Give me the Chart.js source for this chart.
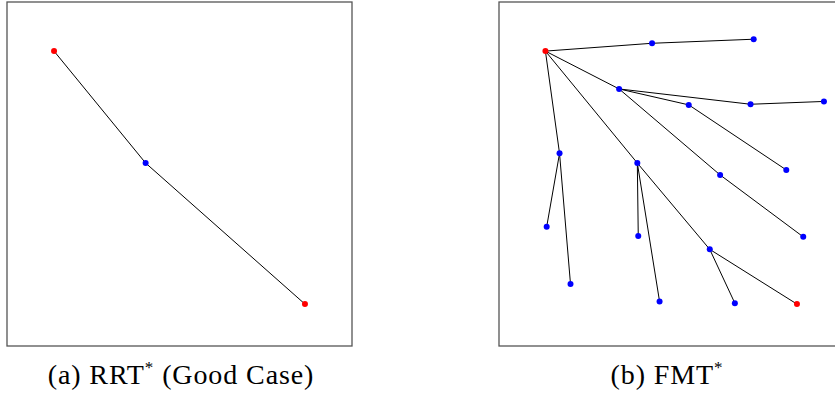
<!DOCTYPE html>
<html>
<head>
<meta charset="utf-8">
<script src="https://cdn.jsdelivr.net/npm/chart.js@4/dist/chart.umd.min.js"></script>
<style>
  html, body { margin: 0; padding: 0; background: #fff; width: 835px; height: 402px; overflow: hidden; position: relative; }
  .panel { position: absolute; top: 0; width: 349px; height: 348px; }
  .cap { position: absolute; top: 359px; font-family: "Liberation Serif", "DejaVu Serif", serif; font-size: 28px; color: #000; white-space: nowrap; transform: translateX(-50%); letter-spacing: 0.9px; }
  .cap sup { font-size: 17px; position: relative; top: -1px; vertical-align: top; }
</style>
</head>
<body>
<div class="panel" id="p1" style="left:5px"><canvas id="c1"></canvas></div>
<div class="panel" id="p2" style="left:497px"><canvas id="c2"></canvas></div>
<div class="cap" style="left:181px">(a) RRT<sup>*</sup> (Good Case)</div>
<div class="cap" style="left:667px">(b) FMT<sup>*</sup></div>
<script>
// ---- Data (world coordinates) ----
// (a) RRT* (Good Case)
const rrtX = [0.10, 0.392, 0.90];
const rrtY = [0.893, 0.535, 0.084];
const rrtColor = ['red', 'blue', 'red'];
const rrtEdges = [[0, 1], [1, 2]];

// (b) FMT*
const fmtX = [0.098, 0.438, 0.762, 0.333, 0.555, 0.752, 0.986, 0.866, 0.655, 0.920,
              0.143, 0.102, 0.178, 0.391, 0.394, 0.462, 0.622, 0.702, 0.900];
const fmtY = [0.893, 0.918, 0.931, 0.772, 0.721, 0.723, 0.732, 0.513, 0.497, 0.299,
              0.566, 0.331, 0.148, 0.535, 0.302, 0.092, 0.259, 0.087, 0.084];
const fmtColor = ['red', 'blue', 'blue', 'blue', 'blue', 'blue', 'blue', 'blue', 'blue', 'blue',
                  'blue', 'blue', 'blue', 'blue', 'blue', 'blue', 'blue', 'blue', 'red'];
const fmtEdges = [[0, 1], [1, 2], [0, 3], [3, 4], [3, 5], [5, 6], [4, 7], [3, 8], [8, 9],
                  [0, 10], [10, 11], [10, 12], [0, 13], [13, 14], [13, 15], [13, 16], [16, 17], [16, 18]];

const axisMin = -0.05, axisMax = 1.05;

const frame = {
  id: 'frame',
  afterDraw(chart) {
    const a = chart.chartArea, ctx = chart.ctx;
    ctx.save();
    ctx.strokeStyle = '#555';
    ctx.lineWidth = 1.3;
    ctx.strokeRect(a.left, a.top, a.right - a.left, a.bottom - a.top);
    ctx.restore();
  }
};

function makeChart(id, xs, ys, colors, edges) {
  const datasets = edges.map(([p, c]) => ({
    type: 'line',
    data: [{ x: xs[p], y: ys[p] }, { x: xs[c], y: ys[c] }],
    borderColor: '#000',
    borderWidth: 1,
    pointRadius: 0,
    fill: false,
    tension: 0,
    order: 2
  }));
  datasets.push({
    type: 'scatter',
    data: xs.map((x, i) => ({ x, y: ys[i] })),
    backgroundColor: colors,
    borderColor: colors,
    pointRadius: 3,
    borderWidth: 0,
    order: 1
  });
  return new Chart(document.getElementById(id), {
    type: 'scatter',
    data: { datasets },
    options: {
      responsive: true,
      maintainAspectRatio: false,
      animation: false,
      layout: { padding: 2, autoPadding: false },
      plugins: { legend: { display: false }, tooltip: { enabled: false }, title: { display: false } },
      scales: {
        x: { type: 'linear', min: axisMin, max: axisMax, display: false },
        y: { type: 'linear', min: axisMin, max: axisMax, display: false }
      }
    },
    plugins: [frame]
  });
}

makeChart('c1', rrtX, rrtY, rrtColor, rrtEdges);
makeChart('c2', fmtX, fmtY, fmtColor, fmtEdges);
</script>
</body>
</html>
